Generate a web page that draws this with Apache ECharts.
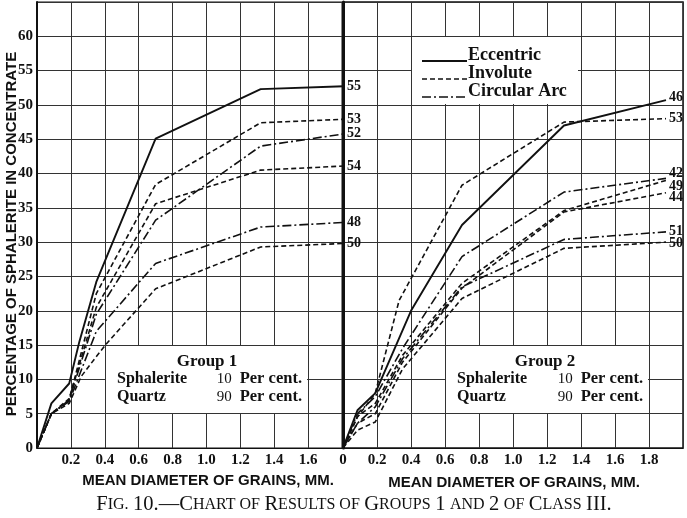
<!DOCTYPE html>
<html><head><meta charset="utf-8">
<script src="https://cdn.jsdelivr.net/npm/echarts/dist/echarts.min.js"></script>
<style>html,body{margin:0;padding:0;background:#fff}#c{width:687px;height:518px}</style>
</head><body><div id="c"></div>
<script>
// ---------- tick labels ----------
const yTickLabels = ['0','5','10','15','20','25','30','35','40','45','50','55','60',''];
const xTickLabels1 = ['','0.2','0.4','0.6','0.8','1.0','1.2','1.4','1.6',''];
const xTickLabels2 = ['0','0.2','0.4','0.6','0.8','1.0','1.2','1.4','1.6','1.8',''];

// ---------- Group 1 series ([mean diameter mm, % sphalerite]) ----------
const g1_55 = [[0,0],[0.085,6.5],[0.19,9.4],[0.25,15.5],[0.35,24.2],[0.7,45.1],[1.32,52.3],[1.9,52.8]];
const g1_53 = [[0,0],[0.085,5],[0.19,7],[0.35,22.5],[0.7,38.4],[1.32,47.4],[1.9,48.0]];
const g1_52 = [[0,0],[0.085,5],[0.19,7],[0.35,19.5],[0.7,33.2],[1.32,44.0],[1.9,46.1]];
const g1_54 = [[0,0],[0.085,5],[0.19,7.2],[0.35,20.5],[0.7,35.6],[1.32,40.5],[1.9,41.2]];
const g1_48 = [[0,0],[0.085,5],[0.19,6.8],[0.35,17],[0.7,26.9],[1.32,32.2],[1.9,33.0]];
const g1_50 = [[0,0],[0.085,5],[0.19,6.5],[0.26,10.4],[0.34,13],[0.41,15.2],[0.7,23.2],[1.32,29.3],[1.9,29.9]];

// ---------- Group 2 series ----------
const g2_46 = [[0,0],[0.085,5.5],[0.19,8],[0.4,20],[0.7,32.5],[1.3,47.0],[1.9,50.7]];
const g2_53 = [[0,0],[0.085,4.5],[0.19,8],[0.33,21.5],[0.7,38.3],[1.3,47.5],[1.9,48.0]];
const g2_42 = [[0,0],[0.085,5],[0.19,7.5],[0.35,14.5],[0.7,27.9],[1.3,37.3],[1.9,39.3]];
const g2_49 = [[0,0],[0.085,4.6],[0.19,6.5],[0.35,13.5],[0.7,24.0],[1.3,34.6],[1.9,39.0]];
const g2_44 = [[0,0],[0.085,3.6],[0.19,5],[0.35,12.5],[0.7,23.3],[1.3,34.4],[1.9,37.2]];
const g2_51 = [[0,0],[0.085,3.6],[0.19,6],[0.35,13],[0.7,23.5],[1.3,30.4],[1.9,31.5]];
const g2_50 = [[0,0],[0.085,2.6],[0.19,3.8],[0.35,11.5],[0.7,21.8],[1.3,29.1],[1.9,30.0]];

const legendNames = ['Eccentric','Involute','Circular Arc'];

const DASH = {'Eccentric':'solid','Involute':[5,3],'Circular Arc':[9,3,2,3]};
const SERIF = 'Liberation Serif';
const SANS = 'Liberation Sans';

function mk(data, label, style, gi, offset){
  return {
    type:'line', xAxisIndex:gi, yAxisIndex:gi, data:data, symbol:'none', clip:false,
    silent:true, animation:false, z:5,
    lineStyle:{color:'#111', width: style==='Eccentric'?1.9:1.6, type:DASH[style]},
    endLabel:{show:true, formatter:label, color:'#111', fontFamily:SERIF, fontWeight:'bold',
      fontSize:14, distance:3, offset:offset||[0,0]}
  };
}

const series = [
  mk(g1_55,'55','Eccentric',0),
  mk(g1_53,'53','Involute',0),
  mk(g1_52,'52','Circular Arc',0),
  mk(g1_54,'54','Involute',0),
  mk(g1_48,'48','Circular Arc',0),
  mk(g1_50,'50','Involute',0),
  mk(g2_46,'46','Eccentric',1,[0,-3]),
  mk(g2_53,'53','Involute',1),
  mk(g2_42,'42','Circular Arc',1,[0,-5]),
  mk(g2_49,'49','Involute',1,[0,6]),
  mk(g2_44,'44','Involute',1,[0,5]),
  mk(g2_51,'51','Circular Arc',1),
  mk(g2_50,'50','Involute',1,[0,1])
];

function xAxis(gi, max, labels){
  return {gridIndex:gi, type:'value', min:0, max:max, interval:0.2,
    axisLine:{show:true, onZero:false, lineStyle:{color:'#111', width:1}},
    axisTick:{show:false},
    splitLine:{show:true, lineStyle:{color:'#333', width:1}},
    axisLabel:{showMinLabel:true, showMaxLabel:true, margin:5, color:'#111', fontFamily:SERIF, fontWeight:'bold', fontSize:15,
      formatter:function(v,i){return labels[i]||'';}}
  };
}
function yAxis(gi, showLabels, w){
  return {gridIndex:gi, type:'value', min:0, max:65, interval:5,
    axisLine:{show:true, onZero:false, lineStyle:{color:'#111', width:w}},
    axisTick:{show:false},
    splitLine:{show:true, lineStyle:{color:'#333', width:1}},
    axisLabel:{show:showLabels, showMinLabel:true, showMaxLabel:true, margin:4, color:'#111', fontFamily:SERIF, fontWeight:'bold', fontSize:15,
      formatter:function(v,i){return yTickLabels[i]||'';}}
  };
}

const F = (s,fam,w)=>(w||'bold')+' '+s+'px "'+(fam||SERIF)+'"';
const txt = (x,y,text,opt)=>({type:'text', x:x, y:y, z:20, style:Object.assign({text:text, fill:'#111', font:F(16), textVerticalAlign:'middle'}, opt||{})});
const rect = (x,y,w,h)=>({type:'rect', z:15, shape:{x:x,y:y,width:w,height:h}, style:{fill:'#fff'}});
const seg = (x1,y,x2,dash,w)=>({type:'line', z:20, shape:{x1:x1,y1:y,x2:x2,y2:y}, style:{stroke:'#111', lineWidth:w, lineDash:dash==='solid'?null:dash}});

const pctRich = {n:{fontFamily:SERIF, fontSize:15, fontWeight:'normal', fill:'#111', color:'#111'},
                 p:{fontFamily:SERIF, fontSize:16.5, fontWeight:'bold', fill:'#111', color:'#111'}};
function groupBox(x0, x1, cx, title){
  return [
    rect(x0,346,x1-x0,67),
    txt(cx,362,title,{textAlign:'center', font:F(17)}),
    txt(x0+11,379,'Sphalerite',{font:F(16)}),
    txt(x1-5,379,'{n|10}  {p|Per cent.}',{textAlign:'right', rich:pctRich}),
    txt(x0+11,397,'Quartz',{font:F(16)}),
    txt(x1-5,397,'{n|90}  {p|Per cent.}',{textAlign:'right', rich:pctRich})
  ];
}

const graphic = [
  // legend box
  rect(412,37,166,67),
  seg(422,61,467,DASH['Eccentric'],1.9),
  seg(422,79,467,DASH['Involute'],1.6),
  seg(422,97,467,DASH['Circular Arc'],1.6),
  txt(468,55,legendNames[0],{font:F(18)}),
  txt(468,73,legendNames[1],{font:F(18)}),
  txt(468,91,legendNames[2],{font:F(18)}),
  ...groupBox(106,307,207,'Group 1'),
  ...groupBox(446,648,545,'Group 2'),
  // axis names
  txt(208,481,'MEAN DIAMETER OF GRAINS, MM.',{textAlign:'center', font:F(15,SANS)}),
  txt(514,483,'MEAN DIAMETER OF GRAINS, MM.',{textAlign:'center', font:F(15,SANS)}),
  {type:'text', x:12, y:234, rotation:Math.PI/2, z:20,
    style:{text:'PERCENTAGE OF SPHALERITE IN CONCENTRATE', fill:'#111', font:F(15,SANS), textAlign:'center', textVerticalAlign:'middle'}},
  // caption (small caps)
  {type:'text', x:354, y:505, z:20,
    style:{text:'{b|F}{s|IG.} {b|10.—C}{s|HART OF} {b|R}{s|ESULTS OF} {b|G}{s|ROUPS} {b|1} {s|AND} {b|2} {s|OF} {b|C}{s|LASS} {b|III.}',
      fill:'#111', textAlign:'center', textVerticalAlign:'middle', font:F(18,SERIF,'normal'),
      rich:{b:{fontFamily:SERIF, fontSize:20.5, fill:'#111', color:'#111'}, s:{fontFamily:SERIF, fontSize:16, fill:'#111', color:'#111'}}}}
];

const chart = echarts.init(document.getElementById('c'), null, {renderer:'canvas'});
chart.setOption({
  animation:false,
  backgroundColor:'#fff',
  grid:[
    {left:37, top:2, width:305, height:446, show:true, borderColor:'#111', borderWidth:1, backgroundColor:'transparent'},
    {left:343, top:2, width:340, height:446, show:true, borderColor:'#111', borderWidth:1.5, backgroundColor:'transparent'}
  ],
  xAxis:[xAxis(0,1.8,xTickLabels1), xAxis(1,2.0,xTickLabels2)],
  yAxis:[yAxis(0,true,2), yAxis(1,false,3)],
  series:series,
  graphic:graphic
});
</script>
</body></html>
